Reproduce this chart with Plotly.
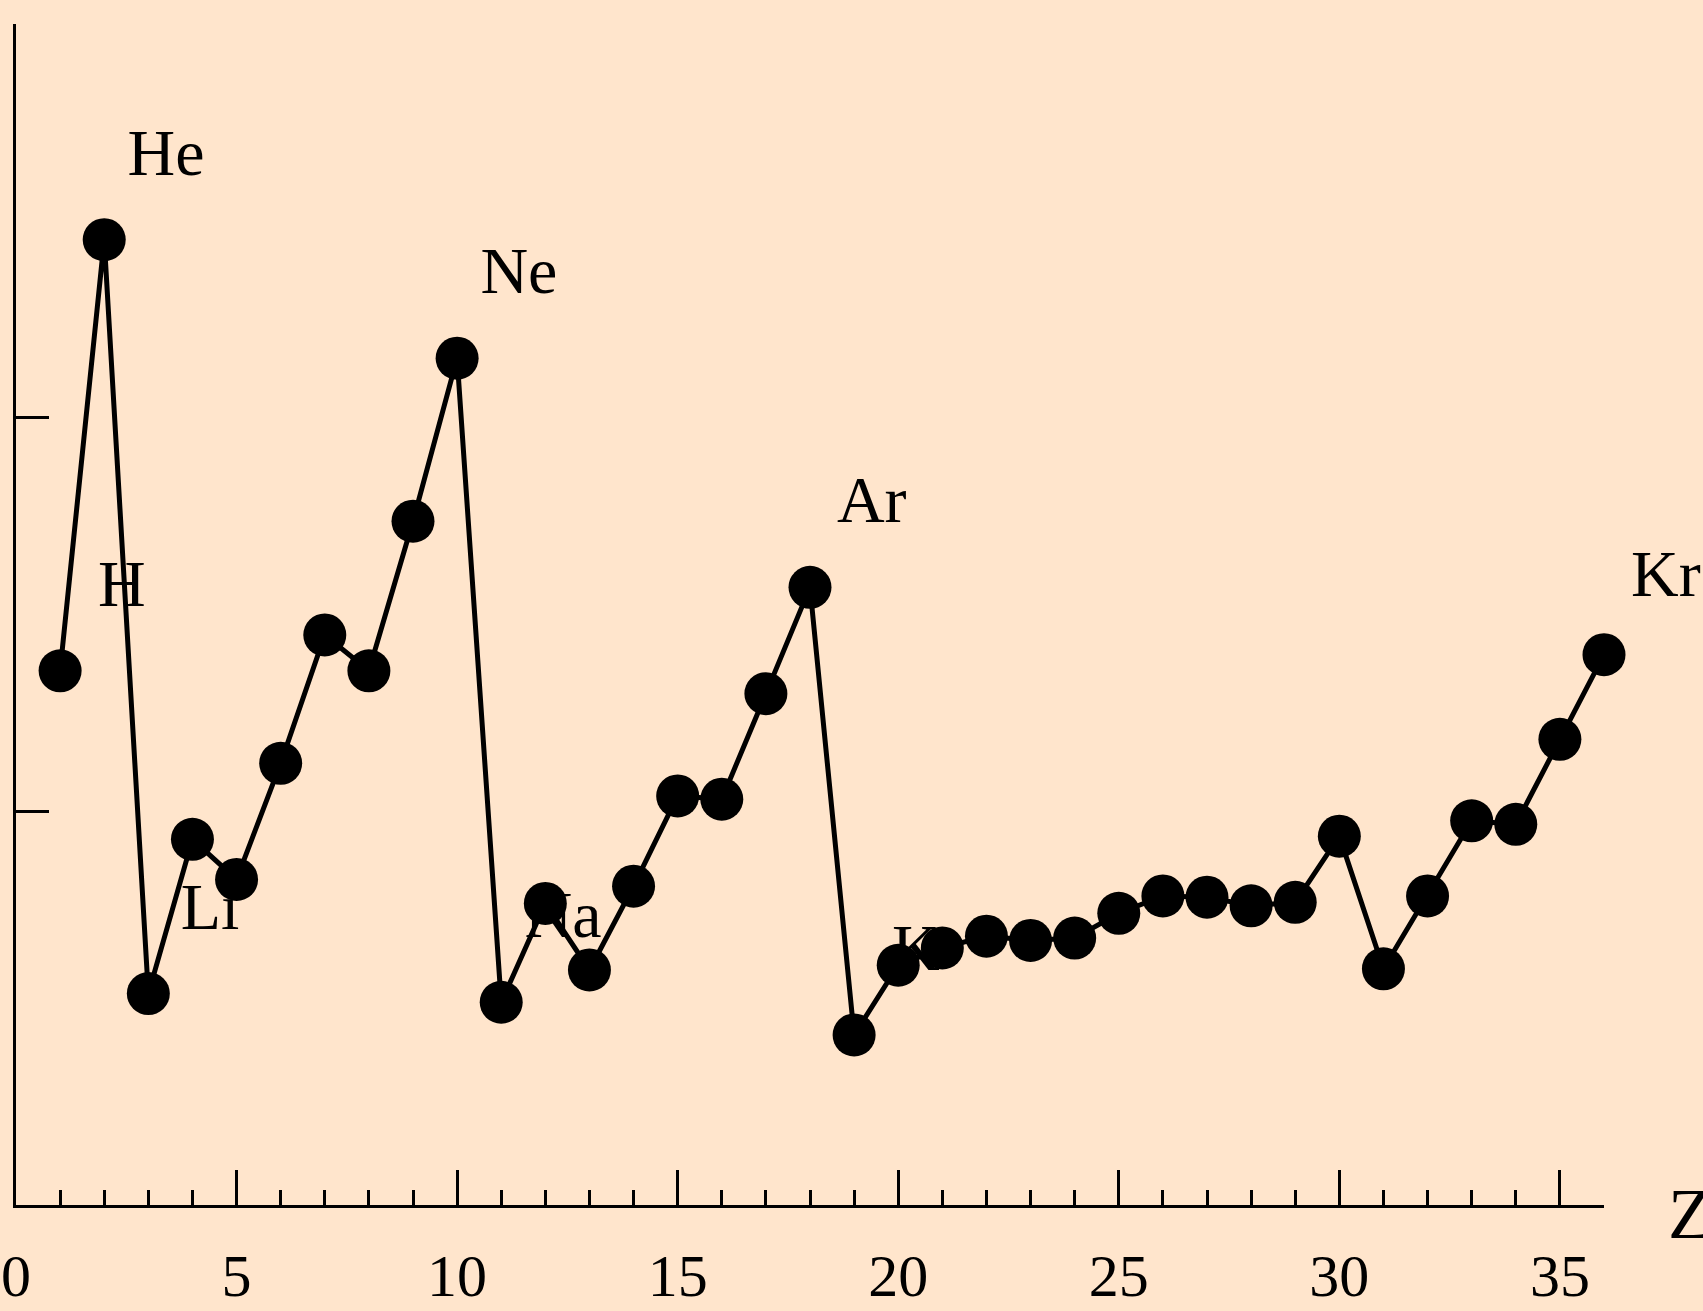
import plotly.graph_objects as go

# Atomic number and first ionization energy (eV)
Z = list(range(1, 37))
energy = [13.57, 24.52, 5.37, 9.29, 8.27, 11.22, 14.48, 13.57, 17.37, 21.51,
          5.15, 7.66, 5.97, 8.10, 10.39, 10.31, 12.99, 15.69, 4.32, 6.09,
          6.53, 6.83, 6.72, 6.78, 7.41, 7.85, 7.82, 7.60, 7.69, 9.37,
          6.00, 7.85, 9.76, 9.67, 11.83, 13.98]

label_z = [1, 2, 3, 10, 11, 18, 19, 36]
label_text = ["H", "He", "Li", "Ne", "Na", "Ar", "K", "Kr"]

x_ticks = [0, 5, 10, 15, 20, 25, 30, 35]
y_ticks = [10, 20, 30]

BG = "rgb(255,229,204)"
FONT = "Liberation Serif"
X_MAX, Y_MAX = 36, 30

# label offset relative to its point (data units)
DX, DY = 1.40, 2.07
lab_x = [z + DX for z in label_z]
lab_y = [energy[z - 1] + DY for z in label_z]
inside = [i for i, x in enumerate(lab_x) if x <= X_MAX]
outside = [i for i, x in enumerate(lab_x) if x > X_MAX]

fig = go.Figure()
# labels drawn first so the line and markers cover them
fig.add_trace(go.Scatter(
    x=[lab_x[i] for i in inside], y=[lab_y[i] for i in inside],
    text=[label_text[i] for i in inside], mode="text",
    textposition="middle center",
    textfont=dict(family=FONT, size=66, color="black"),
    cliponaxis=False, showlegend=False, hoverinfo="skip"))
fig.add_trace(go.Scatter(
    x=Z, y=energy, mode="lines+markers",
    line=dict(color="black", width=5),
    marker=dict(color="black", size=43, line=dict(width=0)),
    cliponaxis=False, showlegend=False))

# labels beyond the x range: placed in paper coordinates (data -> paper)
for i in outside:
    fig.add_annotation(x=lab_x[i] / X_MAX, y=lab_y[i] / Y_MAX,
                       xref="paper", yref="paper",
                       text=label_text[i], showarrow=False,
                       xanchor="center", yanchor="middle",
                       font=dict(family=FONT, size=66, color="black"))

fig.add_annotation(x=37.4 / X_MAX, y=-0.23 / Y_MAX, xref="paper", yref="paper",
                   text="Z", showarrow=False, xanchor="left", yanchor="middle",
                   font=dict(family=FONT, size=72, color="black"))

fig.update_layout(
    width=1703, height=1311,
    margin=dict(l=16, r=99, t=24, b=106, autoexpand=False),
    paper_bgcolor=BG, plot_bgcolor=BG,
    font=dict(family=FONT, color="black"),
)
fig.update_xaxes(
    range=[0, X_MAX], showgrid=False, zeroline=False, automargin=False,
    showline=True, linecolor="black", linewidth=3,
    tickmode="array", tickvals=x_ticks, ticktext=[str(v) for v in x_ticks],
    ticks="inside", ticklen=35, tickwidth=3, tickcolor="black",
    ticklabelstandoff=16,
    tickfont=dict(family=FONT, size=60, color="black"),
    minor=dict(dtick=1, tick0=0, ticks="inside", ticklen=15, tickwidth=3,
               tickcolor="black", showgrid=False),
)
fig.update_yaxes(
    range=[0, Y_MAX], showgrid=False, zeroline=False, automargin=False,
    showline=True, linecolor="black", linewidth=3,
    tickmode="array", tickvals=y_ticks,
    ticks="inside", ticklen=33, tickwidth=3, tickcolor="black",
    showticklabels=False,
)

fig.write_html("out.html",
               config={"displayModeBar": False},
               post_script="document.body.style.margin='0';"
                           "document.body.style.overflow='hidden';")
